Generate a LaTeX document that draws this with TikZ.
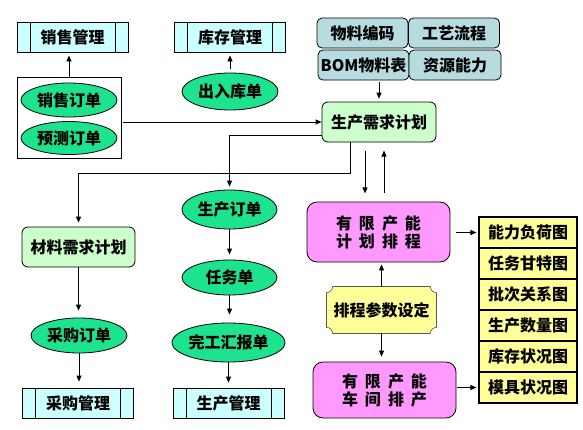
\documentclass[tikz,border=0pt]{standalone}
\usepackage{fontspec}
\setmainfont{Noto Sans CJK SC}
\usepackage{tikz}
\usetikzlibrary{shapes,arrows,positioning,calc,arrows.meta,backgrounds}

\definecolor{modcyan}{HTML}{CCFFFF}
\definecolor{ordergreen}{HTML}{1DE38F}
\definecolor{datagray}{HTML}{B7DCE0}
\definecolor{plangreen}{HTML}{CCFFCC}
\definecolor{schedpink}{HTML}{FF99FF}
\definecolor{noteyellow}{HTML}{FFFF99}

\newcommand{\cgap}{\hspace{7pt}}

\begin{document}
\begin{tikzpicture}[
    x=1pt, y=-1pt,
    line width=0.8pt,
    font=\fontsize{16}{18}\selectfont\bfseries,
    every node/.style={inner sep=0pt},
    module/.style={rectangle, draw, fill=modcyan, minimum width=111pt, minimum height=30pt,
        path picture={
            \draw ([xshift=13pt]path picture bounding box.north west) -- ([xshift=13pt]path picture bounding box.south west);
            \draw ([xshift=-13pt]path picture bounding box.north east) -- ([xshift=-13pt]path picture bounding box.south east);}},
    order/.style={ellipse, draw, fill=ordergreen, minimum width=96pt, minimum height=35pt},
    data/.style={rectangle, draw, rounded corners=5pt, fill=datagray, minimum width=91pt, minimum height=30pt},
    plan/.style={rectangle, draw, rounded corners=6pt, fill=plangreen, minimum width=114pt, minimum height=40pt},
    sched/.style={rectangle, draw, rounded corners=10pt, fill=schedpink, minimum width=143pt, minimum height=60pt, align=center},
    chart/.style={rectangle, draw, line width=1.2pt, fill=noteyellow, minimum width=98pt, minimum height=31pt},
    arrow/.style={->, >={Triangle[length=6pt,width=5pt]}}
]
    \useasboundingbox (0,0) rectangle (583,429);

    % management modules
    \node[module] (salesmgmt) at (72.5,37) {销售管理};
    \node[module] (stockmgmt) at (230,37) {库存管理};
    \node[module] (buymgmt) at (78,403) {采购管理};
    \node[module] (prodmgmt) at (228.5,403) {生产管理};

    % demand orders
    \node[draw, minimum width=104pt, minimum height=81pt] (orders) at (69,117.5) {};
    \node[order, minimum height=34pt] (salesorder) at (69,100) {销售订单};
    \node[order, minimum height=33pt] (forecast) at (69,138) {预测订单};
    \node[order, minimum height=37pt] (inout) at (230,91.5) {出入库单};

    % base data
    \node[data] (code) at (362.5,33) {物料编码};
    \node[data] (route) at (454,33) {工艺流程};
    \node[data] (bom) at (363.5,65) {BOM物料表};
    \node[data, minimum width=92pt] (resource) at (455,65) {资源能力};

    \node[plan] (mps) at (379,122) {生产需求计划};
    \node[plan, minimum width=113pt] (mrp) at (78.5,247) {材料需求计划};

    \node[order] (buyorder) at (79,335.5) {采购订单};
    \node[order, minimum width=95pt, minimum height=39pt] (prodorder) at (229.5,209.5) {生产订单};
    \node[order, minimum width=95pt] (task) at (229.5,277.5) {任务单};
    \node[order, minimum width=113pt, minimum height=39pt] (done) at (228.5,342.5) {完工汇报单};

    % scheduling
    \node[sched] (fcs) at (378.5,232) {有\cgap 限\cgap 产\cgap 能\\计\cgap 划\cgap 排\cgap 程};
    \node[sched, minimum height=56pt] (shop) at (384.5,390) {有\cgap 限\cgap 产\cgap 能\\车\cgap 间\cgap 排\cgap 产};
    \node[minimum width=109pt, minimum height=46pt] (params) at (381.5,310) {排程参数设定};
    \begin{scope}[on background layer]
        \draw[fill=noteyellow] ([xshift=6pt]params.north west) -- ([xshift=-6pt]params.north east)
            arc (180:270:6pt) -- ([yshift=6pt]params.south east)
            arc (90:180:6pt) -- ([xshift=6pt]params.south west)
            arc (0:90:6pt) -- ([yshift=-6pt]params.north west)
            arc (270:360:6pt) -- cycle;
    \end{scope}

    % charts
    \node[chart] (load) at (528,232.5) {能力负荷图};
    \node[chart] (gantt) at (528,263.5) {任务甘特图};
    \node[chart] (batch) at (528,294.5) {批次关系图};
    \node[chart] (qty) at (528,325.5) {生产数量图};
    \node[chart] (stock) at (528,356.5) {库存状况图};
    \node[chart] (mold) at (528,387.5) {模具状况图};

    \draw[arrow, shorten >=3pt] (orders.north) -- (orders.north |- salesmgmt.south);
    \draw[arrow, shorten <=4pt, shorten >=3pt] (inout.north) -- (stockmgmt.south);
    \draw[arrow, shorten <=2pt, shorten >=3pt] (bom.south -| mps.north) -- (mps.north);
    \draw[arrow, shorten <=2pt] (orders.east |- mps.west) -- (mps.west);
    \draw[arrow, shorten >=3pt] ([yshift=-13pt]mps.west) -| (prodorder.north);
    \draw[arrow, shorten >=4pt] ([xshift=29pt]mps.south west) -- ++(0,31) -| (mrp.north);
    \draw[arrow, shorten <=9pt, shorten >=9pt] ([xshift=-14pt]mps.south) -- ++(0,60);
    \draw[arrow, shorten <=9pt, shorten >=9pt] ([xshift=5.5pt]fcs.north) -- ++(0,-60);
    \draw[arrow, shorten >=2pt] (params.north) -- (params.north |- fcs.south);
    \draw[arrow, shorten >=5pt] (params.south) -- (params.south |- shop.north);
    \draw[arrow, shorten <=6pt, shorten >=2pt] (fcs.east |- load.west) -- (load.west);
    \draw[arrow, shorten <=1pt, shorten >=2pt] (shop.east |- mold.west) -- (mold.west);
    \draw[arrow, shorten >=7pt] (mrp.south) -- (mrp.south |- buyorder.north);
    \draw[arrow, shorten >=6pt] (buyorder.south) -- (buyorder.south |- buymgmt.north);
    \draw[arrow, shorten >=5pt] (prodorder.south) -- (prodorder.south |- task.north);
    \draw[arrow, shorten >=8pt] (task.south) -- (task.south |- done.north);
    \draw[arrow, shorten >=5pt] (done.south) -- (done.south |- prodmgmt.north);

\end{tikzpicture}
\end{document}
